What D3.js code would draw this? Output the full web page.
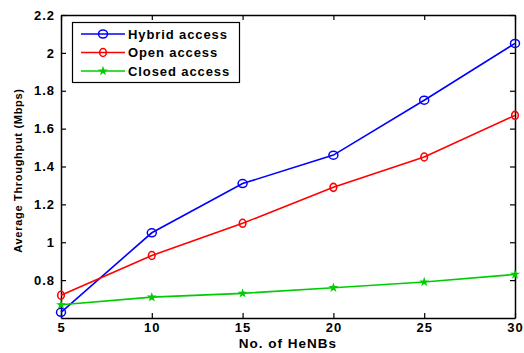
<!DOCTYPE html>
<html>
<head>
<meta charset="utf-8">
<script src="https://cdn.jsdelivr.net/npm/d3@7"></script>
<style>
  html, body { margin: 0; padding: 0; background: #fff; }
  svg { display: block; font-family: "Liberation Sans", Arial, sans-serif; font-weight: bold; }
</style>
</head>
<body>
<svg id="chart" width="524" height="353"></svg>
<script>
// Average throughput versus number of HeNBs for three access modes
const henbs = [5, 10, 15, 20, 25, 30];
const hybridAccess = [0.63, 1.05, 1.31, 1.46, 1.75, 2.05];
const openAccess = [0.72, 0.93, 1.10, 1.29, 1.45, 1.67];
const closedAccess = [0.67, 0.71, 0.73, 0.76, 0.79, 0.83];
const seriesNames = ["Hybrid access", "Open access", "Closed access"];
const seriesColors = ["#0000ff", "#ff0000", "#00cc00"];
const xTicks = [5, 10, 15, 20, 25, 30];
const yTicks = [0.8, 1, 1.2, 1.4, 1.6, 1.8, 2, 2.2];

const svg = d3.select("#chart");
const m = { left: 61, right: 9, top: 15, bottom: 35 };
const W = 524, H = 353;

const x = d3.scaleLinear().domain([5, 30]).range([m.left, W - m.right]);
const y = d3.scaleLinear().domain([0.6, 2.2]).range([H - m.bottom, m.top]);

const series = [hybridAccess, openAccess, closedAccess].map((vals, i) => ({
  name: seriesNames[i], color: seriesColors[i],
  points: henbs.map((h, j) => ({ x: h, y: vals[j] }))
}));

// axes with inward ticks, mirrored on top and right
const tickLen = 5;
const fmt = d => String(d);
svg.append("g").attr("transform", `translate(0,${y.range()[0]})`)
  .call(d3.axisBottom(x).tickValues(xTicks).tickFormat(fmt).tickSizeInner(-tickLen).tickSizeOuter(0).tickPadding(5));
svg.append("g").attr("transform", `translate(0,${y.range()[1]})`)
  .call(d3.axisTop(x).tickValues(xTicks).tickFormat("").tickSizeInner(-tickLen).tickSizeOuter(0));
svg.append("g").attr("transform", `translate(${x.range()[0]},0)`)
  .call(d3.axisLeft(y).tickValues(yTicks).tickFormat(fmt).tickSizeInner(-tickLen).tickSizeOuter(0).tickPadding(6));
svg.append("g").attr("transform", `translate(${x.range()[1]},0)`)
  .call(d3.axisRight(y).tickValues(yTicks).tickFormat("").tickSizeInner(-tickLen).tickSizeOuter(0));

svg.selectAll(".domain").attr("stroke", "#000").attr("stroke-width", 1.5);
svg.selectAll(".tick line").attr("stroke", "#000").attr("stroke-width", 1.2);
svg.selectAll(".tick text").attr("fill", "#000").style("font-size", "13px")
  .style("font-weight", "bold").style("font-family", "'Liberation Sans', Arial, sans-serif")
  .style("letter-spacing", "1px");

// series lines
const line = d3.line().x(d => x(d.x)).y(d => y(d.y));
series.forEach(s => {
  svg.append("path").datum(s.points).attr("d", line)
    .attr("fill", "none").attr("stroke", s.color).attr("stroke-width", 1.6);
});

// markers
function drawMarker(g, idx, cx, cy, color) {
  if (idx === 0) {
    g.append("ellipse").attr("cx", cx).attr("cy", cy).attr("rx", 4.5).attr("ry", 4)
      .attr("fill", "none").attr("stroke", color).attr("stroke-width", 1.5);
  } else if (idx === 1) {
    g.append("ellipse").attr("cx", cx).attr("cy", cy).attr("rx", 3.3).attr("ry", 4)
      .attr("fill", "none").attr("stroke", color).attr("stroke-width", 1.6);
  } else {
    g.append("path").attr("d", d3.symbol(d3.symbolStar, 12)())
      .attr("transform", `translate(${cx},${cy})`)
      .attr("fill", color).attr("stroke", color).attr("stroke-width", 1.2);
  }
}
series.forEach((s, i) => {
  const g = svg.append("g");
  s.points.forEach(p => drawMarker(g, i, x(p.x), y(p.y), s.color));
});

// legend
const lg = svg.append("g");
lg.append("rect").attr("x", 72.5).attr("y", 22.5).attr("width", 167).attr("height", 60)
  .attr("fill", "#fff").attr("stroke", "#000").attr("stroke-width", 1.2);
series.forEach((s, i) => {
  const ry = 34 + i * 18.5;
  lg.append("line").attr("x1", 81).attr("x2", 125).attr("y1", ry).attr("y2", ry)
    .attr("stroke", s.color).attr("stroke-width", 1.6);
  drawMarker(lg, i, 103, ry, s.color);
  lg.append("text").attr("x", 128).attr("y", ry).attr("dy", "0.36em")
    .style("font-size", "13px").style("letter-spacing", "0.9px").text(s.name);
});

// axis titles
svg.append("text").attr("x", (x.range()[0] + x.range()[1]) / 2).attr("y", 348)
  .attr("text-anchor", "middle").style("font-size", "13.5px").style("letter-spacing", "1px")
  .text("No. of HeNBs");
svg.append("text")
  .attr("transform", `translate(22,${(y.range()[0] + y.range()[1]) / 2 + 4}) rotate(-90)`)
  .attr("text-anchor", "middle").style("font-size", "11px").style("letter-spacing", "0.7px")
  .text("Average Throughput (Mbps)");
</script>
</body>
</html>
